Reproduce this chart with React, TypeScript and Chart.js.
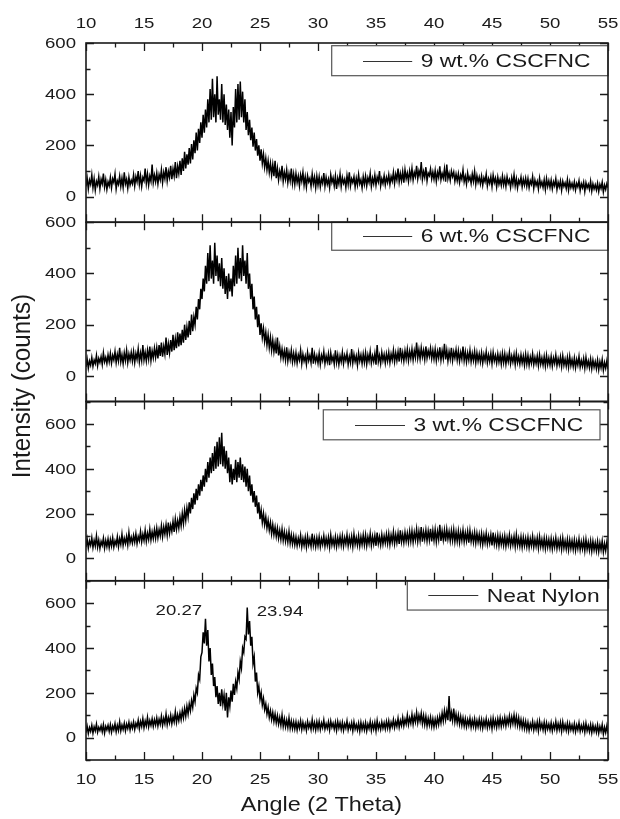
import React, { useEffect, useRef } from 'react';
import { Chart, registerables } from 'chart.js';

Chart.register(...registerables);

// ---------- data (2θ from 10 to 55 in 0.1° steps) ----------
const angleStart = 10;
const angleStep = 0.1;

const seriesNames = ['9 wt.% CSCFNC', '6 wt.% CSCFNC', '3 wt.% CSCFNC', 'Neat Nylon'];

const cscfnc9 = [
  40, 72, 30, 65, 48, 85, 35, 70, 25, 60, 45, 78, 32, 68, 50, 90, 38, 66, 28, 58,
  42, 75, 35, 70, 55, 88, 30, 62, 48, 80, 40, 72, 36, 95, 50, 68, 33, 76, 45, 64,
  50, 85, 42, 78, 58, 100, 48, 82, 40, 75, 62, 110, 52, 88, 45, 80, 60, 125, 55, 84,
  58, 92, 50, 86, 66, 105, 55, 95, 70, 115, 62, 98, 75, 120, 68, 108, 80, 135, 72, 118,
  90, 140, 85, 150, 100, 175, 110, 165, 125, 190, 130, 205, 145, 220, 170, 250, 180, 265, 210, 290,
  230, 320, 250, 340, 270, 380, 290, 420, 300, 460, 310, 400, 290, 470, 320, 380, 300, 440, 290, 400,
  280, 360, 260, 340, 230, 330, 200, 350, 270, 420, 290, 440, 300, 450, 310, 410, 290, 380, 260, 330,
  240, 300, 220, 270, 195, 250, 180, 225, 160, 200, 140, 185, 130, 165, 115, 150, 105, 140, 95, 130,
  85, 125, 80, 140, 72, 110, 65, 100, 75, 120, 60, 95, 68, 105, 55, 90, 62, 110, 52, 88,
  48, 90, 55, 80, 42, 85, 60, 95, 45, 78, 38, 82, 58, 72, 40, 88, 50, 76, 35, 80,
  45, 78, 38, 70, 52, 92, 40, 75, 48, 68, 35, 85, 55, 74, 42, 80, 30, 72, 50, 88,
  40, 75, 52, 68, 36, 82, 48, 95, 42, 70, 55, 78, 38, 72, 45, 86, 50, 66, 34, 78,
  48, 80, 42, 74, 55, 90, 40, 72, 50, 84, 45, 76, 58, 100, 42, 70, 52, 82, 46, 75,
  55, 85, 48, 78, 60, 95, 52, 88, 65, 110, 58, 90, 62, 98, 55, 105, 70, 92, 60, 100,
  72, 110, 65, 95, 78, 120, 70, 100, 80, 135, 68, 98, 75, 115, 62, 92, 82, 108, 70, 96,
  68, 102, 60, 95, 75, 118, 66, 90, 72, 108, 58, 125, 70, 92, 64, 100, 78, 96, 60, 88,
  62, 90, 55, 85, 68, 104, 58, 80, 50, 92, 64, 78, 52, 88, 60, 98, 48, 82, 56, 76,
  50, 80, 45, 74, 58, 88, 42, 70, 52, 78, 40, 84, 55, 72, 38, 76, 48, 68, 44, 80,
  46, 72, 40, 78, 52, 66, 36, 74, 48, 85, 42, 70, 34, 64, 50, 76, 38, 68, 45, 72,
  40, 70, 35, 62, 48, 78, 32, 65, 44, 60, 30, 72, 42, 58, 36, 66, 28, 70, 40, 62,
  36, 64, 30, 58, 42, 70, 28, 56, 38, 62, 25, 60, 40, 54, 32, 66, 26, 58, 35, 52,
  32, 58, 26, 52, 38, 62, 24, 50, 35, 56, 20, 54, 34, 48, 28, 60, 22, 50, 30, 46,
  26, 52, 20, 48, 32, 56, 18, 45, 28, 50, 35,
];

const cscfnc6 = [
  35, 65, 30, 58, 42, 72, 38, 62, 48, 80, 40, 68, 52, 75, 45, 90, 55, 72, 48, 82,
  55, 88, 50, 80, 62, 95, 52, 84, 58, 110, 55, 82, 48, 90, 60, 100, 52, 86, 62, 92,
  58, 95, 52, 88, 65, 105, 55, 90, 60, 120, 62, 92, 58, 100, 66, 115, 60, 98, 70, 108,
  72, 110, 68, 120, 78, 130, 75, 115, 85, 150, 82, 125, 90, 140, 95, 160, 100, 145, 108, 170,
  115, 165, 120, 180, 130, 200, 140, 190, 150, 215, 160, 240, 175, 230, 200, 270, 220, 300, 260, 340,
  300, 380, 330, 430, 360, 480, 370, 510, 380, 450, 360, 520, 390, 470, 370, 440, 350, 460, 340, 420,
  320, 390, 300, 400, 330, 380, 310, 430, 350, 470, 360, 500, 380, 460, 370, 510, 390, 450, 360, 480,
  340, 400, 300, 360, 260, 310, 220, 270, 190, 240, 160, 205, 150, 185, 135, 170, 120, 160, 110, 150,
  100, 140, 95, 130, 88, 150, 80, 115, 72, 105, 68, 98, 62, 112, 58, 92, 64, 100, 55, 88,
  55, 90, 50, 82, 62, 100, 48, 85, 58, 78, 45, 92, 60, 80, 52, 110, 48, 84, 56, 78,
  50, 88, 45, 80, 60, 95, 48, 78, 55, 86, 42, 90, 58, 76, 46, 100, 52, 82, 44, 78,
  55, 92, 48, 80, 60, 88, 45, 76, 52, 105, 50, 84, 56, 78, 42, 90, 58, 82, 48, 86,
  52, 90, 46, 82, 58, 95, 50, 78, 56, 88, 44, 120, 55, 80, 48, 92, 60, 84, 50, 86,
  58, 92, 52, 86, 62, 100, 55, 90, 60, 95, 56, 110, 64, 92, 58, 98, 66, 104, 60, 96,
  68, 105, 62, 98, 72, 130, 70, 102, 66, 110, 74, 100, 64, 115, 70, 98, 76, 108, 68, 100,
  66, 104, 60, 96, 70, 112, 62, 98, 68, 125, 64, 100, 58, 95, 66, 110, 60, 94, 70, 102,
  62, 98, 58, 92, 66, 115, 60, 94, 55, 90, 62, 100, 56, 88, 60, 96, 52, 90, 58, 86,
  55, 90, 50, 84, 60, 95, 52, 82, 56, 88, 48, 92, 58, 80, 50, 86, 54, 82, 46, 88,
  52, 86, 46, 80, 56, 92, 48, 78, 54, 84, 44, 88, 52, 76, 46, 82, 50, 78, 42, 84,
  46, 80, 42, 74, 50, 86, 44, 72, 48, 78, 40, 82, 46, 70, 42, 76, 38, 80, 44, 70,
  42, 76, 38, 70, 48, 82, 40, 68, 44, 74, 36, 78, 42, 66, 38, 72, 34, 76, 40, 64,
  36, 70, 32, 64, 42, 76, 34, 60, 38, 68, 30, 72, 36, 58, 32, 66, 28, 62, 34, 56,
  28, 62, 24, 56, 32, 64, 22, 52, 30, 58, 26,
];

const cscfnc3 = [
  50, 85, 45, 78, 58, 92, 48, 80, 55, 100, 50, 82, 44, 76, 58, 90, 46, 80, 52, 86,
  48, 84, 55, 92, 50, 78, 60, 96, 52, 88, 62, 108, 58, 90, 66, 98, 60, 115, 70, 94,
  68, 102, 72, 110, 66, 98, 78, 120, 74, 108, 80, 125, 76, 112, 84, 130, 82, 118, 88, 128,
  90, 135, 92, 128, 100, 145, 96, 140, 108, 150, 104, 160, 112, 148, 120, 165, 118, 175, 130, 168,
  135, 185, 145, 200, 155, 215, 170, 225, 185, 250, 200, 270, 220, 290, 240, 310, 260, 330, 280, 350,
  300, 370, 320, 400, 340, 430, 360, 450, 380, 470, 390, 500, 400, 520, 410, 540, 420, 560, 410, 500,
  400, 480, 380, 450, 340, 420, 330, 400, 350, 440, 340, 430, 360, 450, 350, 420, 340, 410, 320, 400,
  300, 370, 280, 330, 250, 300, 230, 280, 200, 250, 175, 215, 160, 200, 150, 185, 135, 170, 125, 160,
  110, 150, 105, 140, 98, 135, 90, 125, 85, 130, 80, 118, 76, 112, 72, 120, 68, 105, 64, 100,
  60, 95, 56, 90, 62, 102, 52, 88, 58, 94, 50, 98, 60, 86, 54, 110, 58, 90, 52, 92,
  56, 96, 52, 88, 62, 100, 54, 90, 58, 94, 50, 104, 60, 88, 56, 96, 52, 92, 60, 98,
  58, 100, 54, 92, 64, 105, 56, 94, 60, 98, 52, 108, 62, 92, 58, 100, 55, 96, 62, 104,
  60, 104, 56, 96, 66, 110, 58, 98, 64, 102, 56, 115, 66, 96, 60, 106, 64, 100, 68, 108,
  66, 110, 62, 104, 72, 118, 66, 106, 70, 112, 64, 125, 74, 108, 70, 116, 76, 112, 72, 120,
  76, 122, 72, 116, 82, 130, 76, 120, 80, 140, 74, 118, 84, 126, 78, 122, 82, 132, 76, 124,
  80, 128, 74, 120, 84, 150, 78, 122, 82, 126, 76, 130, 86, 120, 78, 124, 80, 128, 74, 118,
  76, 122, 72, 116, 80, 126, 74, 114, 78, 120, 70, 124, 76, 110, 72, 116, 68, 112, 74, 108,
  66, 110, 62, 104, 70, 112, 64, 100, 68, 106, 58, 115, 64, 98, 60, 102, 56, 100, 62, 96,
  58, 100, 54, 94, 62, 104, 56, 92, 60, 98, 52, 106, 58, 90, 54, 96, 50, 94, 56, 90,
  52, 94, 48, 88, 56, 98, 50, 86, 54, 92, 46, 96, 52, 84, 48, 90, 44, 88, 50, 84,
  46, 88, 42, 82, 50, 92, 44, 80, 48, 86, 40, 90, 46, 78, 42, 84, 38, 82, 44, 78,
  40, 82, 36, 76, 44, 86, 38, 74, 42, 80, 34, 84, 40, 72, 36, 78, 32, 76, 38, 70,
  34, 76, 30, 70, 38, 78, 28, 66, 34, 72, 40,
];

const neatNylon = [
  22, 50, 18, 45, 28, 55, 20, 48, 30, 60, 24, 46, 32, 52, 26, 58, 20, 50, 34, 55,
  28, 58, 24, 52, 34, 62, 26, 55, 32, 70, 30, 56, 36, 64, 30, 60, 40, 68, 34, 62,
  42, 70, 36, 64, 48, 78, 40, 72, 50, 85, 44, 74, 52, 90, 48, 76, 55, 84, 50, 80,
  56, 88, 52, 82, 60, 95, 55, 86, 62, 105, 58, 90, 66, 100, 62, 94, 70, 115, 68, 102,
  75, 110, 80, 120, 88, 130, 95, 140, 105, 150, 120, 165, 135, 190, 160, 220, 200, 280, 260, 360,
  380, 470, 420, 530, 410, 480, 340, 400, 280, 330, 230, 270, 180, 230, 150, 200, 140, 215, 150, 190,
  120, 200, 90, 180, 140, 210, 160, 240, 190, 250, 220, 290, 260, 340, 310, 400, 380, 450, 440, 580,
  460, 520, 410, 450, 330, 360, 250, 290, 200, 230, 170, 200, 145, 175, 125, 150, 105, 135, 90, 120,
  80, 112, 72, 105, 66, 98, 60, 90, 55, 100, 50, 84, 48, 78, 45, 88, 42, 74, 40, 70,
  38, 70, 34, 66, 42, 75, 36, 68, 40, 62, 32, 72, 44, 64, 36, 80, 40, 66, 34, 70,
  40, 72, 36, 65, 44, 78, 38, 62, 42, 70, 34, 74, 46, 64, 38, 68, 32, 72, 42, 66,
  36, 68, 32, 62, 42, 74, 34, 60, 40, 66, 30, 70, 38, 58, 34, 64, 28, 68, 36, 62,
  34, 66, 30, 60, 40, 72, 32, 64, 38, 68, 30, 76, 40, 62, 36, 70, 42, 66, 38, 72,
  42, 74, 38, 68, 48, 80, 44, 72, 50, 86, 46, 76, 54, 90, 52, 82, 60, 100, 58, 88,
  64, 104, 60, 96, 70, 112, 66, 100, 72, 108, 62, 98, 58, 94, 52, 86, 56, 90, 50, 84,
  48, 82, 52, 88, 58, 96, 66, 110, 74, 120, 80, 118, 78, 185, 72, 112, 76, 130, 70, 104,
  66, 100, 60, 94, 56, 88, 52, 84, 48, 80, 54, 86, 46, 78, 50, 84, 44, 76, 48, 82,
  46, 80, 42, 76, 50, 84, 44, 74, 48, 82, 40, 86, 50, 78, 46, 84, 52, 88, 50, 82,
  56, 90, 52, 86, 60, 96, 56, 92, 62, 100, 58, 94, 54, 88, 48, 80, 44, 76, 40, 72,
  36, 68, 32, 62, 40, 72, 34, 64, 38, 70, 30, 74, 40, 62, 34, 68, 30, 66, 38, 60,
  34, 66, 30, 60, 38, 72, 32, 62, 36, 68, 28, 70, 36, 58, 32, 64, 28, 62, 34, 56,
  30, 62, 26, 56, 34, 66, 28, 54, 32, 60, 24, 64, 30, 52, 26, 58, 22, 56, 28, 50,
  24, 56, 20, 50, 28, 58, 16, 46, 22, 52, 18,
];

const xMinMax = [10, 55];
const yMins = [-100, -100, -100, -100];
const yMaxs = [600, 600, 700, 700];
const xTickLabels = ['10', '15', '20', '25', '30', '35', '40', '45', '50', '55'];
const yTickLabels = ['0', '200', '400', '600'];
const peakLabels = ['20.27', '23.94'];
const peakAngles = [20.27, 23.94];
const peakLabelHeights = [566, 560];

const xTitle = 'Angle (2 Theta)';
const yTitle = 'Intensity (counts)';

// ---------- drawing helpers ----------
const FONT = '"Liberation Sans", Arial, Helvetica, sans-serif';
const INK = '#1a1a1a';
const SX = 1.2;
const panelIds = ['y1', 'y2', 'y3', 'y4'];

function drawText(
  ctx: CanvasRenderingContext2D,
  text: string,
  x: number,
  y: number,
  size: number,
  align: CanvasTextAlign,
  baseline: CanvasTextBaseline,
  sx = SX,
  sy = 1,
  rotate = false
) {
  ctx.save();
  ctx.translate(x, y);
  if (rotate) ctx.rotate(-Math.PI / 2);
  ctx.scale(sx, sy);
  ctx.font = `${size}px ${FONT}`;
  ctx.textAlign = align;
  ctx.textBaseline = baseline;
  ctx.fillStyle = INK;
  ctx.fillText(text, 0, 0);
  ctx.restore();
}

// legend box geometry per panel (pixels relative to panel top / right edge)
const legendBoxes = [
  { left: 331.7, rightInset: 0, dy: 2.7, h: 30, lineStart: 31.3, lineEnd: 80.5 },
  { left: 331.7, rightInset: 0, dy: 0, h: 28, lineStart: 31.3, lineEnd: 80.5 },
  { left: 323.3, rightInset: 8, dy: 8.3, h: 30, lineStart: 31.7, lineEnd: 81.7 },
  { left: 407.3, rightInset: 0, dy: 0, h: 29.3, lineStart: 21, lineEnd: 71 },
];

const framePlugin = {
  id: 'xrdFrames',
  afterDatasetsDraw(chart: any) {
    const ctx: CanvasRenderingContext2D = chart.ctx;
    const xs = chart.scales.x;
    const left = xs.left;
    const right = xs.right;
    ctx.save();
    ctx.lineCap = 'butt';

    // inward ticks
    ctx.strokeStyle = INK;
    ctx.lineWidth = 1.3;
    ctx.beginPath();
    panelIds.forEach((id) => {
      const ys = chart.scales[id];
      const top = ys.top;
      const bottom = ys.bottom;
      xs.ticks.forEach((t: any) => {
        const px = Math.round(xs.getPixelForValue(t.value)) + 0.5;
        const major = xTickLabels.includes(String(t.value));
        const len = major ? 8 : 4.5;
        ctx.moveTo(px, top);
        ctx.lineTo(px, top + len);
        ctx.moveTo(px, bottom);
        ctx.lineTo(px, bottom - len);
      });
      ys.ticks.forEach((t: any) => {
        const py = Math.round(ys.getPixelForValue(t.value)) + 0.5;
        const major = t.value % 200 === 0;
        const len = major ? 8 : 4.5;
        ctx.moveTo(left, py);
        ctx.lineTo(left + len, py);
        ctx.moveTo(right, py);
        ctx.lineTo(right - len, py);
      });
    });
    ctx.stroke();

    // legend boxes
    panelIds.forEach((id, p) => {
      const ys = chart.scales[id];
      const lb = legendBoxes[p];
      const bx = lb.left;
      const by = ys.top + lb.dy;
      const bw = right - lb.rightInset - bx;
      const bh = lb.h;
      ctx.fillStyle = '#ffffff';
      ctx.fillRect(bx, by, bw, bh);
      ctx.strokeStyle = '#555555';
      ctx.lineWidth = 1.2;
      ctx.strokeRect(bx, by, bw, bh);
      const cy = by + bh / 2;
      ctx.strokeStyle = '#333333';
      ctx.lineWidth = 1;
      ctx.beginPath();
      ctx.moveTo(bx + lb.lineStart, Math.round(cy) + 0.5);
      ctx.lineTo(bx + lb.lineEnd, Math.round(cy) + 0.5);
      ctx.stroke();
      drawText(ctx, seriesNames[p], bx + lb.lineEnd + 8.5, cy + 1, 19, 'left', 'middle');
    });

    // panel frames
    ctx.strokeStyle = INK;
    ctx.lineWidth = 1.6;
    panelIds.forEach((id) => {
      const ys = chart.scales[id];
      ctx.strokeRect(left, ys.top, right - left, ys.bottom - ys.top);
    });

    // y tick labels
    panelIds.forEach((id) => {
      const ys = chart.scales[id];
      ys.ticks.forEach((t: any) => {
        const label = String(t.value);
        if (!yTickLabels.includes(label)) return;
        drawText(ctx, label, left - 10, ys.getPixelForValue(t.value) + 0.5, 15.5, 'right', 'middle');
      });
    });

    // x tick labels (top and bottom)
    const topPanel = chart.scales[panelIds[0]];
    const bottomPanel = chart.scales[panelIds[panelIds.length - 1]];
    xs.ticks.forEach((t: any) => {
      const label = String(t.value);
      if (!xTickLabels.includes(label)) return;
      const px = xs.getPixelForValue(t.value);
      drawText(ctx, label, px, topPanel.top - 19.5, 15.5, 'center', 'middle');
      drawText(ctx, label, px, bottomPanel.bottom + 20, 15.5, 'center', 'middle');
    });

    // peak annotations on the neat nylon panel
    const y4 = chart.scales[panelIds[3]];
    drawText(ctx, peakLabels[0], xs.getPixelForValue(peakAngles[0]) - 3, y4.getPixelForValue(peakLabelHeights[0]), 15.5, 'right', 'middle');
    drawText(ctx, peakLabels[1], xs.getPixelForValue(peakAngles[1]) + 9, y4.getPixelForValue(peakLabelHeights[1]), 15.5, 'left', 'middle');

    // axis titles
    drawText(ctx, xTitle, 321.5, 811, 19.5, 'center', 'alphabetic');
    drawText(ctx, yTitle, 23, 386, 22, 'center', 'middle', 1.1, 1.15, true);

    ctx.restore();
  },
};

function makePoints(values: number[]) {
  return values.map((v, i) => ({ x: angleStart + i * angleStep, y: v }));
}

function yScale(p: number) {
  return {
    type: 'linear',
    position: 'left',
    stack: 'panels',
    stackWeight: 1,
    weight: 4 - p,
    min: yMins[p],
    max: yMaxs[p],
    ticks: { stepSize: 100, display: false },
    grid: { display: false, drawTicks: false },
    border: { display: false },
    afterFit: (s: any) => {
      s.width = 0;
    },
  };
}

export default function App() {
  const canvasRef = useRef<HTMLCanvasElement | null>(null);

  useEffect(() => {
    const canvas = canvasRef.current;
    if (!canvas) return;
    const seriesList = [cscfnc9, cscfnc6, cscfnc3, neatNylon];
    const chart = new Chart(canvas, {
      type: 'line',
      data: {
        datasets: seriesList.map((s, p) => ({
          label: seriesNames[p],
          data: makePoints(s),
          xAxisID: 'x',
          yAxisID: panelIds[p],
          borderColor: '#000000',
          borderWidth: 1.5,
          borderJoinStyle: 'miter',
          pointRadius: 0,
          tension: 0,
          fill: false,
        })),
      },
      options: {
        animation: false,
        responsive: false,
        devicePixelRatio: 1,
        events: [],
        layout: { padding: { left: 86, right: 12, top: 43, bottom: 59 } },
        plugins: {
          legend: { display: false },
          tooltip: { enabled: false },
          title: { display: false },
        },
        scales: {
          x: {
            type: 'linear',
            position: 'bottom',
            min: xMinMax[0],
            max: xMinMax[1],
            ticks: { stepSize: 2.5, display: false },
            grid: { display: false, drawTicks: false },
            border: { display: false },
            afterFit: (s: any) => {
              s.height = 0;
            },
          },
          y1: yScale(0),
          y2: yScale(1),
          y3: yScale(2),
          y4: yScale(3),
        } as any,
      },
      plugins: [framePlugin],
    } as any);
    return () => chart.destroy();
  }, []);

  return (
    <div style={{ position: 'absolute', left: 0, top: 0, width: 620, height: 819, background: '#fff' }}>
      <canvas ref={canvasRef} width={620} height={819} style={{ display: 'block' }} />
    </div>
  );
}
